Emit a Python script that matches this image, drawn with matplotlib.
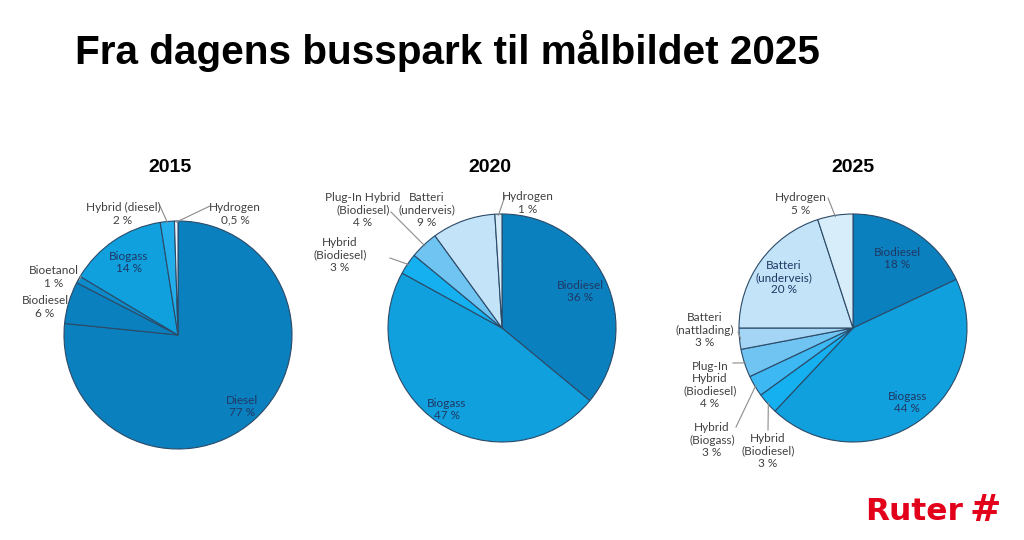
import numpy as np
import matplotlib
matplotlib.use("Agg")
import matplotlib.pyplot as plt

W, H = 1024, 540

title = "Fra dagens busspark til målbildet 2025"
years = ["2015", "2020", "2025"]

labels_2015 = ["Diesel", "Biodiesel", "Bioetanol", "Biogass", "Hybrid (diesel)", "Hydrogen"]
values_2015 = [77, 6, 1, 14, 2, 0.5]

labels_2020 = ["Biodiesel", "Biogass", "Hybrid\n(Biodiesel)", "Plug-In Hybrid\n(Biodiesel)",
               "Batteri\n(underveis)", "Hydrogen"]
values_2020 = [36, 47, 3, 4, 9, 1]

labels_2025 = ["Biodiesel", "Biogass", "Hybrid\n(Biodiesel)", "Hybrid\n(Biogass)",
               "Plug-In\nHybrid\n(Biodiesel)", "Batteri\n(nattlading)", "Batteri\n(underveis)", "Hydrogen"]
values_2025 = [18, 44, 3, 3, 4, 3, 20, 5]

# colours per fuel type
colors = {
    "Diesel": "#0B80BE",
    "Biodiesel": "#0B80BE",
    "Bioetanol": "#0C8CCB",
    "Biogass": "#10A0DE",
    "Hybrid (diesel)": "#22AEEA",
    "Hybrid\n(Biodiesel)": "#14B0F0",
    "Hybrid\n(Biogass)": "#3DB8F2",
    "Plug-In Hybrid\n(Biodiesel)": "#70C4F2",
    "Plug-In\nHybrid\n(Biodiesel)": "#70C4F2",
    "Batteri\n(nattlading)": "#A5D5F5",
    "Batteri\n(underveis)": "#C3E3F8",
    "Hydrogen": "#D8EDFA",
}
hydrogen_2015 = "#EEF7FD"

# layout: pie centre/radius (pixels) and label placement per wedge
# ("in", radius fraction) or ("out", text x, text y, leader start or None)
layout = [
    dict(c=(178, 335), r=114, year=(170, 168), place=[
        ("in", 0.84), ("out", 45, 307, None), ("out", 54, 277, (81, 276)),
        ("in", 0.77), ("out", 123, 214, (160, 206)), ("out", 235, 214, (210, 206))]),
    dict(c=(502, 328), r=114, year=(490, 168), place=[
        ("in", 0.76), ("in", 0.86), ("out", 340, 255, (390, 258)),
        ("out", 363, 210, (391, 212)), ("out", 427, 210, None), ("out", 528, 203, (505, 196))]),
    dict(c=(853, 328), r=114, year=(853, 168), place=[
        ("in", 0.72), ("in", 0.81), ("out", 768, 451, (768, 430)), ("out", 712, 440, (736, 427)),
        ("out", 710, 385, (733, 363)), ("out", 705, 330, (738, 332)), ("in", 0.75),
        ("out", 801, 204, (828, 198))]),
]

def pct(v):
    return f"{v:g} %".replace(".", ",")

fig = plt.figure(figsize=(W / 100, H / 100), dpi=100)
fig.patch.set_facecolor("white")
ax = fig.add_axes([0, 0, 1, 1])

series = [(labels_2015, values_2015), (labels_2020, values_2020), (labels_2025, values_2025)]
for i, (labs, vals) in enumerate(series):
    lay = layout[i]
    cx, cy = lay["c"]
    r = lay["r"]
    cols = [colors[l] for l in labs]
    if i == 0:
        cols[-1] = hydrogen_2015
    # y axis is inverted below, so start at -90 and go "counterclock" to get clockwise from top
    wedges, _ = ax.pie(vals, colors=cols, startangle=-90, counterclock=True,
                       center=(cx, cy), radius=r,
                       wedgeprops=dict(edgecolor="#2B4A68", linewidth=0.8))
    ax.text(lay["year"][0], lay["year"][1], years[i], ha="center", va="center",
            fontsize=14, fontweight="bold", family="Liberation Sans", color="black")
    for w, lab, v, p in zip(wedges, labs, vals, lay["place"]):
        mid = np.deg2rad((w.theta1 + w.theta2) / 2)
        txt = lab + "\n" + pct(v)
        if p[0] == "in":
            x = cx + p[1] * r * np.cos(mid)
            y = cy + p[1] * r * np.sin(mid)
            ax.text(x, y, txt, ha="center", va="center", fontsize=8.5, family="Lato",
                    color="#1F3864", linespacing=1.12)
        else:
            ax.text(p[1], p[2], txt, ha="center", va="center", fontsize=8.5, family="Lato",
                    color="#404040", linespacing=1.12)
            if p[3] is not None:
                ex = cx + 0.99 * r * np.cos(mid)
                ey = cy + 0.99 * r * np.sin(mid)
                ax.plot([p[3][0], ex], [p[3][1], ey], color="#8C8C8C", lw=0.8)

ax.set_xlim(0, W)
ax.set_ylim(H, 0)
ax.axis("off")

fig.text(75 / W, 1 - 51 / H, title, ha="left", va="center", fontsize=29.2,
         fontweight="bold", family="Liberation Sans", color="black")

# logo
fig.text(865 / W, 1 - 511 / H, "Ruter", ha="left", va="center", fontsize=22.5,
         fontweight="bold", family="DejaVu Sans", color="#E2001A")
fig.text(1001 / W, 1 - 511 / H, "#", ha="right", va="center", fontsize=27,
         fontweight="bold", family="DejaVu Sans", color="#E2001A")

fig.savefig("out.png", dpi=100, facecolor="white")
